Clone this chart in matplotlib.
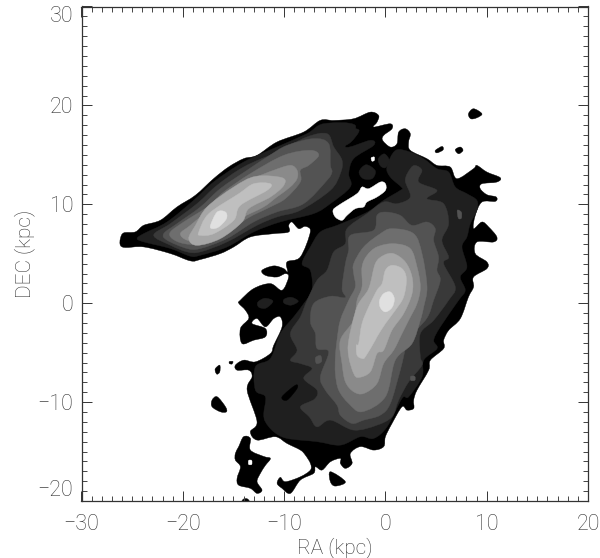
import matplotlib
matplotlib.use("Agg")
import matplotlib.pyplot as plt
from matplotlib.path import Path
from matplotlib.patches import PathPatch
from matplotlib.ticker import MultipleLocator

# contour outlines, in kpc (RA, DEC)
OUTER_BODY = [(-26.16,6.54),(-25.83,7.11),(-24.68,7.21),(-23.85,7.88),(-22.21,8.39),(-20.56,9.74),(-18.76,10.91),(-16.95,12.6),(-15.47,13.78),(-13.98,14.62),(-12.67,14.95),(-10.7,16.3),(-8.06,17.31),(-6.42,18.49),
 (-5.11,18.48),(-3.14,18.65),(-1.49,19.32),(-0.67,18.98),(-0.83,18.31),(-1.16,17.81),(0.48,18.14),(0.65,17.64),(-0.18,16.96),(-0.27,16.46),(0.48,15.79),(1.14,16.12),(1.31,17.3),(1.96,17.64),(2.46,17.13),(2.29,16.29),(2.46,15.45),(4.1,14.61),(5.09,13.93),(6.4,13.77),(7.06,12.59),(8.7,13.6),(9.03,13.93),(10.02,13.26),(11.34,12.69),(11.0,12.25),(9.53,12.08),(9.36,11.58),(10.02,10.97),(10.94,10.74),(10.85,10.3),(9.53,10.23),(8.87,8.88),(8.7,7.54),(9.53,8.21),(10.19,7.71),(11.0,6.7),(10.68,6.19),(9.03,6.19),(8.87,5.01),(10.02,4.17),(10.02,3.5),(8.7,2.65),(8.7,1.64),(8.2,0.63),
 (7.4,-1.55),(6.25,-2.73),(5.75,-3.74),(5.75,-4.58),(4.44,-5.76),(4.27,-6.77),(3.12,-8.79),(2.79,-9.8),(2.79,-10.64),(2.13,-10.81),(1.64,-10.47),(0.65,-12.16),(0,-13.5),(-0.17,-14.5),(-1.15,-14.85),(-2.47,-14.5),(-3.46,-15.19),(-3.29,-16.2),(-3.95,-16.7),(-4.44,-16.2),(-4.44,-15.69),(-5.43,-16.03),(-6.25,-16.87),(-6.91,-16.54),(-7.08,-17.2),(-8.39,-17.88),(-9.38,-19.23),(-10.2,-18.72),(-10.69,-18.22),(-10.37,-17.61),(-9.87,-18.05),(-8.39,-17.55),(-7.4,-16.87),(-7.4,-16.2),(-7.9,-15.36),(-8.39,-14.85),(-9.71,-14.18),(-10.86,-13.5),(-12.67,-13.84),(-13.33,-13.0),(-12.67,-11.99),(-13.65,-8.79),(-13.16,-7.44),(-13.49,-6.77),(-14.64,-6.77),(-14.81,-6.27),(-13.98,-5.76),(-12.83,-5.93),(-11.35,-5.09),(-11.02,-4.25),(-10.2,-2.39),(-10.37,-1.38),(-11.02,-1.55),(-11.85,-2.39),(-12.67,-1.55),(-13.16,-2.06),(-11.85,-2.56),(-11.85,-3.4),(-13.0,-3.74),(-14.15,-4.08),(-14.31,-2.56),(-13.49,-1.55),(-13.82,-0.71),(-14.48,0.0),
 (-14.32,0.3),(-13,1.48),(-11.36,1.98),(-10.2,1.31),(-9.55,2.65),(-9.88,2.99),(-10.7,2.65),(-11.85,2.82),(-12.18,3.33),(-11.03,3.77),(-10.04,3.5),(-9.65,3.16),(-9.71,4.17),(-8.4,4.67),(-7.41,7.2),(-7.9,7.77),(-8.56,7.54),(-9.22,8.21),(-9.55,7.87),(-9.55,7.2),(-11.03,7.03),(-13.33,6.7),
 (-14.97,5.69),(-16.29,5.02),(-18.26,4.42),(-19.25,4.28),(-21.22,5.02),(-23.85,5.69),(-25.66,5.63),(-26.16,5.86)]

ISLAND_A = [(-14.0,-13.5),(-13.33,-13.67),(-13.33,-14.85),(-12.0,-15.5),(-11.35,-15.7),(-11.85,-16.4),(-12.34,-17.2),(-12.67,-18.05),(-12.18,-18.9),(-12.67,-19.23),(-13.33,-18.72),(-14.48,-18.4),(-14.64,-17.7),(-14.31,-16.54),(-14.81,-15.86),(-14.81,-15.19),(-14.48,-14.5)]
ISLAND_B = [(-17.11,-9.8),(-16.61,-9.46),(-15.79,-10.47),(-15.69,-10.98),(-16.29,-10.98),(-17.11,-10.47)]
ISLAND_C = [(-16.78,-6.6),(-16.35,-6.27),(-16.35,-6.94),(-16.61,-7.18),(-16.78,-6.94)]
ISLAND_D = [(-15.4,-5.9),(-15.05,-5.9),(-15.15,-6.15),(-15.4,-6.1)]
ISLAND_E = [(-5.43,-17.04),(-3.95,-18.05),(-4.94,-18.49),(-5.43,-18.05)]
ISLAND_F = [(-14.2,-20.2),(-14.0,-19.8),(-13.6,-19.8),(-13.4,-20.2)]
ISLAND_G = [(8.2,19.15),(8.7,19.66),(9.53,19.15),(9.03,18.75),(8.43,18.65)]
ISLAND_H = [(4.93,15.45),(5.59,15.85),(5.69,15.5),(5.09,15.2)]
ISLAND_I = [(6.9,15.52),(7.39,15.79),(7.66,15.45),(7.23,15.11)]
OUTER_ISLANDS = [ISLAND_A, ISLAND_B, ISLAND_C, ISLAND_D, ISLAND_E, ISLAND_F, ISLAND_G, ISLAND_H, ISLAND_I]

HOLE_A = [(-5.17,9.39),(-4.62,9.9),(-2.81,11.07),(-2.31,11.75),(-1.65,11.58),(-0.5,12.25),(0,12.08),(0,11.41),(-0.83,10.74),(-1.82,10.23),(-2.15,9.73),(-2.97,9.56),(-3.79,8.88),(-4.29,8.38),(-4.94,8.71)]
HOLE_B = [(-1.4,14.7),(-1.1,14.78),(-1.1,14.44),(-1.33,14.37)]
HOLE_C = [(-13.5,-15.9),(-13.2,-15.9),(-13.2,-16.3),(-13.5,-16.3)]
HOLES = [HOLE_A, HOLE_B, HOLE_C]

TAIL_L1 = [(-24.51,6.54),(-23.85,7.04),(-21.55,8.22),(-18.92,10.41),(-16.95,12.26),(-13.98,14.28),(-10.7,15.8),(-7.74,17.14),(-6.09,18.15),(-2.97,17.98),(-3.95,15.8),(-1.49,16.47),(-1.16,15.96),(-3.13,14.62),(-3.62,13.1),(-3.46,11.76),(-5.43,10.07),(-7.08,9.06),(-10.37,8.22),(-13,7.21),(-15.63,5.69),(-18.26,4.85),(-19.25,4.75),(-21.22,5.53),(-23.85,6.2)]
TAIL_L2 = [(-22.87,6.87),(-21.22,8.05),(-18.59,10.07),(-16.62,11.92),(-13.98,13.78),(-10.7,15.29),(-7.74,16.81),(-5.76,17.14),(-5.1,15.8),(-4.28,14.45),(-4.45,13.1),(-5.43,11.42),(-8.39,9.4),(-10.7,8.72),(-12.67,7.88),(-15.63,6.2),(-18.26,5.19),(-19.58,5.19),(-21.22,5.86)]
TAIL_L3 = [(-21.88,7.04),(-20.56,8.05),(-18.26,9.73),(-16.29,11.59),(-13.66,13.44),(-11.5,14.9),(-9.71,15.96),(-7.08,16.64),(-5.6,16.13),(-5.43,13.94),(-5.27,13.27),(-5.76,12.43),(-8.06,10.07),(-10.7,9.23),(-13,8.22),(-15.63,6.54),(-18.26,5.53),(-19.58,5.53),(-21.55,6.37)]
TAIL_L4 = [(-21.22,7.21),(-19.9,8.22),(-17.6,9.73),(-15.96,11.25),(-13.33,13.1),(-10.04,14.95),(-7.41,15.46),(-6.58,14.95),(-7.57,13.94),(-8.4,13.44),(-8.4,12.26),(-9.87,10.58),(-11.35,9.74),(-13.66,8.56),(-15.63,7.04),(-18.26,6.03),(-19.9,6.03),(-21.06,6.54)]
TAIL_L5 = [(-20.24,7.04),(-19.25,7.88),(-17.27,9.57),(-15.63,10.91),(-13,12.6),(-11.03,13.44),(-9.38,13.94),(-8.72,13.44),(-8.72,12.6),(-9.38,11.76),(-10.7,10.75),(-12.01,9.74),(-14.31,8.56),(-15.79,7.38),(-18.26,6.37),(-19.58,6.37)]
TAIL_L6 = [(-19.41,6.53),(-18.75,7.87),(-17.6,9.73),(-14.97,11.75),(-12.83,12.82),(-10.2,12.69),(-10.04,11.9),(-11.35,10.74),(-13.49,9.56),(-14.15,8.21),(-16.29,6.53),(-18.59,5.85)]
TAIL_L7 = [(-18.42,7.2),(-17.44,9.05),(-14.48,11.07),(-13,12.08),(-11.35,12.08),(-11.68,11.41),(-14.31,9.89),(-14.97,8.38),(-16.94,7.03),(-18.26,6.86)]
TAIL_L8 = [(-17.27,7.87),(-16.61,9.22),(-15.79,9.22),(-15.69,8.55),(-16.45,7.71),(-17.11,7.54)]

MAIN_L1 = [(1.0,15.45),(2.46,15.28),(3.77,14.61),(5.09,13.6),(6.24,13.26),(6.9,11.75),(8.05,11.07),(9.03,10.4),(9.03,9.39),(8.38,8.04),(8.05,6.7),(7.56,5.68),(8.05,3.67),(7.39,2.65),(7.88,1.31),(7.23,0.3),(5.42,-2.39),(4.77,-3.74),(5.1,-4.58),(3.78,-5.76),(3.62,-7.44),(2.3,-9.46),(1.64,-9.63),(0.16,-12.5),(-1.15,-13.67),(-2.47,-13.5),(-4.44,-14.35),(-6.75,-14.0),(-9.71,-13.67),(-11.02,-13.0),(-11.85,-11.99),(-12.01,-11.15),(-11.85,-9.46),(-12.83,-8.79),(-12.83,-6.43),(-11.35,-5.59),(-10.37,-3.07),(-9.05,-1.38),(-8.06,-0.04),(-7.24,1.31),(-7.41,3.33),(-8.23,4.0),(-7.41,5.68),(-6.43,7.2),(-4.78,7.87),(-2.81,8.71),(-1.49,9.39),(-0.18,10.4),(1.47,11.41),(1.63,11.68),(0.48,12.76),(0.15,13.77)]
MAIN_L2 = [(2.95,13.93),(3.61,13.43),(3.28,12.25),(5.09,11.41),(4.1,10.57),(5.75,10.06),(6.24,8.04),(5.58,6.36),(6.24,4.67),(5.75,4.0),(6.9,1.64),(6.24,0.3),(4.77,-1.72),(3.45,-3.07),(3.45,-5.42),(3.61,-6.27),(2.3,-7.95),(1.31,-9.8),(0.65,-11.48),(-0.83,-12.33),(-3.13,-12.83),(-5.43,-11.82),(-6.75,-12.5),(-7.5,-11.5),(-8.39,-10.47),(-7.0,-9.7),(-6.75,-8.79),(-8.06,-7.61),(-7.24,-6.6),(-8.39,-6.1),(-9.38,-5.76),(-8.72,-4.75),(-9.38,-3.07),(-8.39,-1.38),(-7.73,0.3),(-6.75,2.32),(-5.77,3.33),(-5.11,5.18),(-3.96,6.02),(-3.79,7.54),(-1.82,9.05),(-0.18,10.23),(1.14,10.06),(2.46,10.74),(1.96,12.42),(2.46,13.6)]
MAIN_L3 = [(0,9.22),(1.47,8.88),(2.62,7.87),(4.1,8.21),(4.92,7.54),(4.76,6.36),(5.25,4.67),(5.09,3.33),(5.42,2.32),(4.76,0.3),(4.1,-1.5),(2.3,-3.74),(1.47,-6.77),(0.49,-10.14),(-0.5,-11.32),(-2.14,-11.82),(-3.29,-12.16),(-4.45,-11.32),(-4.78,-10.3),(-5.93,-8.79),(-6.42,-7.44),(-5.6,-4.92),(-6.75,-4.58),(-6.91,-3.07),(-7.4,-1.89),(-7.08,-0.04),(-5.43,0.7),(-3.95,0.57),(-4.28,1.48),(-3.95,4.0),(-3.63,5.35),(-3.46,6.86),(-1.16,7.37),(-0.83,8.88)]
MAIN_L4 = [(-0.5,7.03),(0.65,7.54),(2.79,7.03),(3.61,5.01),(4.11,1.65),(3.78,-0.37),(3.45,-1.72),(2.63,-4.08),(0.98,-5.76),(-0.0,-9.46),(-2.31,-10.98),(-3.62,-10.14),(-4.61,-8.79),(-4.94,-7.11),(-4.94,-5.42),(-4.78,-3.74),(-4.45,-1.72),(-3.62,0.3),(-2.97,1.65),(-3.13,3.0),(-3.13,4.0),(-2.14,5.69)]
MAIN_L5 = [(-0.83,5.69),(0.82,6.02),(2.46,5.52),(3.12,3.67),(3.45,1.65),(3.12,-0.04),(2.3,-1.72),(1.64,-3.07),(0.82,-4.75),(-0.17,-6.1),(-0.83,-8.12),(-2.14,-9.13),(-3.13,-8.96),(-3.95,-7.95),(-4.28,-6.1),(-4.45,-3.74),(-3.13,-1.72),(-2.8,0.3),(-2.31,1.65),(-2.31,3.67),(-1.81,4.84)]
MAIN_L6 = [(-0.17,4.84),(0.82,5.01),(1.97,4.17),(2.63,2.66),(2.63,0.97),(1.8,-1.05),(0.65,-2.73),(-0.17,-4.75),(-0.83,-5.09),(-1.49,-6.94),(-2.64,-7.51),(-3.13,-7.11),(-3.62,-5.42),(-3.62,-3.74),(-2.8,-0.37),(-1.65,1.48),(-1.0,4.0)]
MAIN_L7 = [(0.65,3.83),(1.64,3.5),(2.07,2.49),(1.8,0.64),(0.98,-0.71),(0,-2.06),(-0.83,-3.4),(-1.0,-3.74),(-1.98,-5.42),(-2.31,-5.59),(-2.8,-5.26),(-2.87,-4.25),(-2.64,-4.08),(-2.31,-2.06),(-1.65,-0.37),(-0.83,1.31),(-0.33,1.98),(0,3.33)]
MAIN_L8 = [(-0.57,0.3),(-0.17,0.97),(0.49,1.14),(0.88,0.47),(0.65,-0.44),(0,-0.88),(-0.5,-0.44)]

PATCH_L0 = [(-10.2,-9.46),(-8.88,-8.29),(-8.72,-8.62),(-9.71,-9.8)]
PATCH_L1 = [[(-2.6,13.3),(-1.9,14.0),(-1.0,13.4),(-1.3,12.6),(-2.2,12.6)],
            [(-0.7,14.6),(-0.1,15.1),(0.4,14.4),(0,13.7),(-0.5,13.9)],
            [(-12.6,0.1),(-11.9,0.5),(-11.1,0.2),(-11.8,-0.5),(-12.5,-0.4)],
            [(-10.0,0.4),(-9.3,0.6),(-8.6,0.2),(-9.3,-0.2),(-10.0,0.0)],
            [(-3.9,17.5),(-2.6,17.5),(-3.4,16.3),(-4.2,16.0)]]
PATCH_L2 = [[(7.1,9.4),(7.5,9.2),(7.5,8.6),(7.2,8.6)], [(-6.9,-5.5),(-6.4,-5.3),(-6.3,-5.9),(-6.8,-6.1)], [(2.5,-7.4),(2.9,-7.4),(2.9,-7.8),(2.5,-7.8)]]

GREYS = ["#000000", "#1f1f1f", "#393939", "#535353", "#6e6e6e", "#8a8a8a", "#a6a6a6", "#bfbfbf", "#e0e0e0"]
TICK_X = [-30, -20, -10, 0, 10, 20]
TICK_Y = [-20, -10, 0, 10, 20, 30]
XLABEL = "RA (kpc)"
YLABEL = "DEC (kpc)"


def smooth(points):
    # closed Catmull-Rom curve that passes through every outline point
    n = len(points)
    verts = [points[0]]
    codes = [Path.MOVETO]
    for i in range(n):
        p0, p1, p2, p3 = points[i - 1], points[i], points[(i + 1) % n], points[(i + 2) % n]
        c1 = (p1[0] + (p2[0] - p0[0]) / 6, p1[1] + (p2[1] - p0[1]) / 6)
        c2 = (p2[0] - (p3[0] - p1[0]) / 6, p2[1] - (p3[1] - p1[1]) / 6)
        verts += [c1, c2, p2]
        codes += [Path.CURVE4] * 3
    return Path(verts, codes)


def draw(ax, points, colour, z):
    ax.add_patch(PathPatch(smooth(points), facecolor=colour, edgecolor=colour, lw=0.3, zorder=z))


fig = plt.figure(figsize=(6, 5.58), dpi=100)
ax = fig.add_axes([81.5 / 600, 1 - 501 / 558, (588 - 81.5) / 600, (501 - 6.5) / 558])
ax.set_xlim(-30, 20)
ax.set_ylim(-20, 30)

draw(ax, OUTER_BODY, GREYS[0], 1)
for island in OUTER_ISLANDS:
    draw(ax, island, GREYS[0], 1)
for hole in HOLES:
    draw(ax, hole, "white", 2)
for lvl, (tail, main) in enumerate([(TAIL_L1, MAIN_L1), (TAIL_L2, MAIN_L2), (TAIL_L3, MAIN_L3), (TAIL_L4, MAIN_L4),
                                    (TAIL_L5, MAIN_L5), (TAIL_L6, MAIN_L6), (TAIL_L7, MAIN_L7), (TAIL_L8, MAIN_L8)], start=1):
    draw(ax, tail, GREYS[lvl], 2 + lvl)
    draw(ax, main, GREYS[lvl], 2 + lvl)
draw(ax, PATCH_L0, GREYS[0], 3.5)
for p in PATCH_L1:
    draw(ax, p, GREYS[1], 3.5)
for p in PATCH_L2:
    draw(ax, p, GREYS[3], 4.5)

ax.set_xticks(TICK_X)
ax.set_yticks(TICK_Y)
ax.xaxis.set_minor_locator(MultipleLocator(1))
ax.yaxis.set_minor_locator(MultipleLocator(1))
ax.tick_params(which="major", direction="in", top=True, right=True, length=7.5, width=0.7, color="#333333")
ax.tick_params(which="minor", direction="in", top=True, right=True, length=3.7, width=0.7, color="#444444")
ax.tick_params(axis="x", which="major", pad=9)
ax.tick_params(axis="y", which="major", pad=6)
for side in ax.spines.values():
    side.set_linewidth(0.9)
    side.set_color("#333333")

font = dict(family=["Roboto", "DejaVu Sans"], weight="light", color="#333333")
ax.set_xticklabels([f"\u2212{abs(v)}" if v < 0 else str(v) for v in TICK_X], **font, fontsize=15.5)
ax.set_yticklabels([f"\u2212{abs(v)}" if v < 0 else str(v) for v in TICK_Y], **font, fontsize=15.5)
ax.get_yticklabels()[-1].set_verticalalignment("top")
ax.get_yticklabels()[0].set_verticalalignment("bottom")
ax.set_xlabel(XLABEL, **font, fontsize=15, labelpad=2)
ax.set_ylabel(YLABEL, **font, fontsize=15, labelpad=2)

fig.savefig("out.png", dpi=100)
